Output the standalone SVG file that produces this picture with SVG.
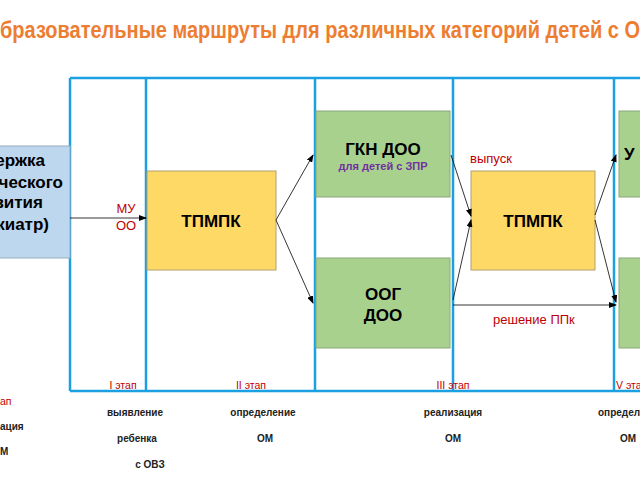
<svg xmlns="http://www.w3.org/2000/svg" width="640" height="480" viewBox="0 0 640 480">
<defs>
<style>
text{font-family:"Liberation Sans",Arial,sans-serif}
.blue{fill:none;stroke:#1ba1e2;stroke-width:2.5}
.g{fill:#a9d18e;stroke:#8aa87a;stroke-width:1}
.y{fill:#ffd966;stroke:#b0a070;stroke-width:1}
.bt{font-weight:bold;font-size:17px;fill:#000}
.red{fill:#c00000}
.st{font-size:10.5px;fill:#c00000}
.sm{font-size:10px;fill:#222;font-weight:bold}
.c{stroke:#000;stroke-width:0.8;fill:none;marker-end:url(#a)}
</style>
<marker id="a" markerWidth="8" markerHeight="6" refX="7" refY="3" orient="auto" markerUnits="userSpaceOnUse"><path d="M0,0L8,3L0,6z" fill="#000"/></marker>
</defs>
<rect width="640" height="480" fill="#fff"/>
<text x="0" y="38" font-size="24" font-weight="bold" fill="#ed7d31" textLength="640" lengthAdjust="spacingAndGlyphs">бразовательные маршруты для различных категорий детей с О</text>
<g id="frame">
<path class="blue" d="M70,78H640M70,391H640M70,78V391M146,78V391M315,78V391M453,78V391M614,78V391"/>
</g>
<g id="n0">
<rect x="-2" y="146" width="72" height="112" fill="#bdd7ee" stroke="#9ab" stroke-width="1"/>
<text class="bt" x="45" y="166" text-anchor="end">ержка</text>
<text class="bt" x="63" y="188" text-anchor="end">ческого</text>
<text class="bt" x="43" y="208" text-anchor="end">вития</text>
<text class="bt" x="49" y="230" text-anchor="end" fill="#7030a0">киатр)</text>
</g>
<g id="n1"><rect class="y" x="147" y="171" width="129" height="99"/><text class="bt" x="211" y="227" text-anchor="middle" font-size="19">ТПМПК</text></g>
<g id="n2"><rect class="g" x="316" y="111" width="134" height="86"/><text class="bt" x="383" y="155" text-anchor="middle">ГКН ДОО</text><text x="383" y="170" text-anchor="middle" font-size="11" font-weight="bold" fill="#7030a0">для детей с ЗПР</text></g>
<g id="n3"><rect class="g" x="316" y="258" width="134" height="90"/><text class="bt" x="383" y="300" text-anchor="middle">ООГ</text><text class="bt" x="383" y="321" text-anchor="middle">ДОО</text></g>
<g id="n4"><rect class="y" x="471" y="171" width="124" height="99"/><text class="bt" x="533" y="227" text-anchor="middle" font-size="19">ТПМПК</text></g>
<g id="n5"><rect class="g" x="619" y="111" width="30" height="86"/><text class="bt" x="624" y="160">У</text></g>
<g id="n6"><rect class="g" x="619" y="258" width="30" height="90"/></g>
<g id="connectors">
<path class="c" d="M70,218H146"/>
<path class="c" d="M276,220L313,155"/>
<path class="c" d="M276,220L313,303"/>
<path class="c" d="M451,155L471,216"/>
<path class="c" d="M453,300L471,220"/>
<path class="c" d="M595,215L616,155"/>
<path class="c" d="M595,220L616,302"/>
<path class="c" d="M453,305H616"/>
</g>
<g id="labels">
<text class="red" x="126" y="213" text-anchor="middle" font-size="13">МУ</text>
<text class="red" x="126" y="230" text-anchor="middle" font-size="13">ОО</text>
<text class="red" x="470" y="163" font-size="13">выпуск</text>
<text class="red" x="493" y="324" font-size="13">решение ППк</text>
<text class="st" x="123" y="389" text-anchor="middle">I этап</text>
<text class="st" x="251" y="389" text-anchor="middle">II этап</text>
<text class="st" x="453" y="389" text-anchor="middle">III этап</text>
<text class="st" x="616" y="389">V этап</text>
<text class="st" x="0" y="405">ап</text>
<text class="sm" x="0" y="430">ация</text>
<text class="sm" x="0" y="455">М</text>
<text class="sm" x="135" y="416" text-anchor="middle">выявление</text>
<text class="sm" x="137" y="442" text-anchor="middle">ребенка</text>
<text class="sm" x="150" y="468" text-anchor="middle">с ОВЗ</text>
<text class="sm" x="263" y="416" text-anchor="middle">определение</text>
<text class="sm" x="265" y="442" text-anchor="middle">ОМ</text>
<text class="sm" x="453" y="416" text-anchor="middle">реализация</text>
<text class="sm" x="453" y="442" text-anchor="middle">ОМ</text>
<text class="sm" x="598" y="416">определение</text>
<text class="sm" x="620" y="442">ОМ</text>
</g>
</svg>
